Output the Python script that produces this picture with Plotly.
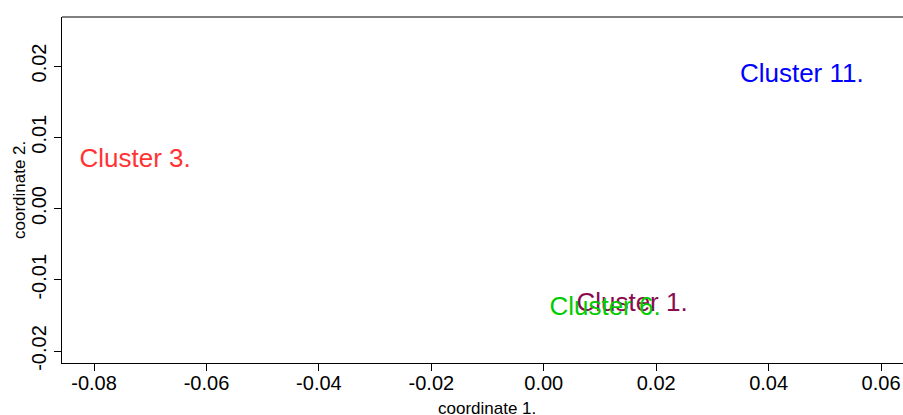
import plotly.graph_objects as go

labels = ["Cluster 3.", "Cluster 11.", "Cluster 1.", "Cluster 6."]
coord1 = [-0.0727, 0.0459, 0.0157, 0.0109]
coord2 = [0.0067, 0.0187, -0.0135, -0.0141]
colors = ["#FF3333", "#0000FF", "#8B0A50", "#00CC00"]

xtick_vals = [-0.08, -0.06, -0.04, -0.02, 0.00, 0.02, 0.04, 0.06]
xtick_text = ["-0.08", "-0.06", "-0.04", "-0.02", "0.00", "0.02", "0.04", "0.06"]
ytick_vals = [-0.02, -0.01, 0.00, 0.01, 0.02]
ytick_text = ["-0.02", "-0.01", "0.00", "0.01", "0.02"]

FONT = "Liberation Sans, Arial, Helvetica, sans-serif"

fig = go.Figure()
fig.add_trace(go.Scatter(
    x=coord1, y=coord2, mode="text", text=labels,
    textposition="middle center",
    textfont=dict(family=FONT, size=26, color=colors),
    hoverinfo="skip", showlegend=False,
))

fig.update_layout(
    width=903, height=415,
    margin=dict(l=62, r=0, t=17, b=52),
    paper_bgcolor="white", plot_bgcolor="white",
    font=dict(family=FONT, color="black"),
    xaxis=dict(
        range=[-0.0857, 0.0639], showgrid=False, zeroline=False,
        showline=True, linecolor="black", linewidth=1,
        ticks="outside", ticklen=7, tickcolor="black",
        tickvals=xtick_vals, ticktext=xtick_text, ticklabelstandoff=-5,
        tickfont=dict(size=20, family=FONT, color="black"),
    ),
    yaxis=dict(
        range=[-0.02168, 0.02688], showgrid=False, zeroline=False,
        showline=True, linecolor="black", linewidth=1,
        ticks="outside", ticklen=7, tickcolor="black",
        tickvals=ytick_vals, ticktext=ytick_text, tickangle=-90,
        tickfont=dict(size=20, family=FONT, color="black"),
    ),
    shapes=[dict(type="line", xref="paper", yref="paper", x0=0, x1=1, y0=1, y1=1,
                 line=dict(color="black", width=1))],
    annotations=[
        dict(text="coordinate 1.", xref="paper", yref="paper", x=0.5054, y=0,
             yshift=-45, showarrow=False, font=dict(size=17, family=FONT, color="black"),
             xanchor="center", yanchor="middle"),
        dict(text="coordinate 2.", xref="paper", yref="paper", x=0, xshift=-43, y=0.5,
             showarrow=False, textangle=-90, font=dict(size=17, family=FONT, color="black"),
             xanchor="center", yanchor="middle"),
    ],
)

fig.write_html(
    "out.html",
    config={"displayModeBar": False},
    post_script="document.body.style.margin='0';document.body.style.overflow='hidden';",
)
